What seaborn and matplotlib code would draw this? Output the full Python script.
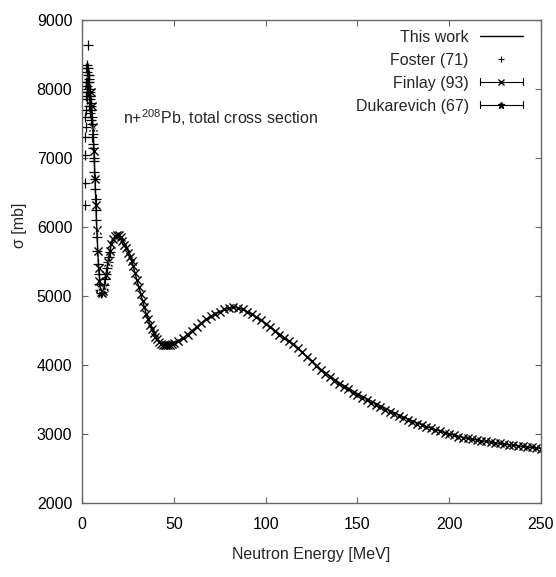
import matplotlib
matplotlib.use("Agg")
import matplotlib.pyplot as plt
import seaborn as sns
from matplotlib.lines import Line2D
from matplotlib.legend_handler import HandlerBase

# ---------------- data ----------------
model_E = [2, 3, 4, 5, 6, 7, 8, 9, 10, 11, 12, 14, 16, 18, 20, 22, 24, 26, 28, 30,
           32, 35, 38, 41, 44, 47, 50, 55, 60, 65, 70, 75, 80, 85, 90, 95, 100,
           110, 120, 130, 140, 150, 160, 170, 180, 190, 200, 210, 220, 230, 240, 250]
model_sigma = [8000, 8150, 8050, 7850, 7450, 6750, 6000, 5420, 5120, 5050, 5120, 5480,
               5760, 5870, 5880, 5810, 5720, 5610, 5420, 5220, 5030, 4740, 4520, 4370,
               4295, 4285, 4310, 4390, 4500, 4610, 4705, 4775, 4825, 4830, 4775, 4695,
               4605, 4400, 4180, 3940, 3745, 3585, 3445, 3310, 3190, 3085, 3000, 2935,
               2890, 2855, 2820, 2790]

foster_E = [1.5, 1.6, 1.7, 1.8, 1.9, 2.0, 2.1, 2.2, 2.3, 2.4, 2.5, 2.6, 2.7, 2.8, 2.9,
            3.0, 3.1, 3.2, 3.3, 3.4, 3.5, 3.6, 3.7, 3.8, 3.9, 4.0, 4.1, 4.2, 4.3, 4.4,
            4.5, 4.6, 4.7, 4.8, 4.9, 5.0, 5.2, 5.4, 5.6, 5.8, 6.0, 6.2, 6.4, 6.6, 6.8,
            7.0, 7.2, 7.4, 7.6, 7.8, 8.1, 8.4, 8.7, 9.0, 9.4, 9.8, 10.2, 10.6, 11.0,
            11.5, 12.0, 12.5, 13.0, 13.5, 14.0, 14.5, 15.0]
foster_sigma = [7050, 7300, 6640, 7600, 6320, 7900, 7450, 8100, 7700, 8300, 7950, 8250,
                8050, 8350, 7850, 8200, 8000, 8300, 8100, 8640, 7950, 8200, 7900, 8100,
                7750, 8150, 7850, 8000, 7700, 7950, 7650, 7900, 7800, 7550, 7700, 7750,
                7500, 7600, 7300, 7350, 7150, 7200, 6950, 7000, 6800, 6700, 6550, 6400,
                6250, 6100, 5850, 5650, 5470, 5320, 5170, 5090, 5055, 5045, 5055, 5100,
                5160, 5240, 5320, 5410, 5490, 5570, 5640]

finlay_E = [5.0, 5.5, 6.0, 6.5, 7.0, 7.5, 8.0, 8.5, 9.0, 9.5, 10.0, 10.5, 11.0, 11.5,
            12.0, 13.0, 14.0, 15.0, 16.0, 17.0, 18.0, 19.0, 20.0, 21.0, 22.0, 23.0,
            24.0, 25.0, 26.0, 27.0, 28.0, 29.0, 30.0, 31.0, 32.0, 33.0, 34.0, 35.0,
            36.0, 37.0, 38.0, 39.0, 40.0, 41.0, 42.0, 43.0, 44.0, 45.0, 46.0, 47.0,
            48.0, 49.0, 50.0, 52.5, 55.0, 57.5, 60.0, 62.5, 65.0, 67.5, 70.0, 72.5,
            75.0, 77.5, 80.0, 82.5, 85.0, 87.5, 90.0, 92.5, 95.0, 97.5, 100.0, 102.5,
            105.0, 107.5, 110.0, 112.5, 115.0, 117.5, 120.0, 122.5, 125.0, 127.5,
            130.0, 132.5, 135.0, 137.5, 140.0, 142.5, 145.0, 147.5, 150.0, 152.5,
            155.0, 157.5, 160.0, 162.5, 165.0, 167.5, 170.0, 172.5, 175.0, 177.5,
            180.0, 182.5, 185.0, 187.5, 190.0, 192.5, 195.0, 197.5, 200.0, 202.5,
            205.0, 207.5, 210.0, 212.5, 215.0, 217.5, 220.0, 222.5, 225.0, 227.5,
            230.0, 232.5, 235.0, 237.5, 240.0, 242.5, 245.0, 247.5, 250.0]
finlay_sigma = [7950, 7750, 7450, 7100, 6700, 6320, 5960, 5650, 5400, 5220, 5110, 5055,
                5045, 5070, 5130, 5300, 5490, 5650, 5760, 5830, 5870, 5885, 5880, 5850,
                5800, 5740, 5690, 5630, 5570, 5510, 5430, 5330, 5230, 5130, 5030, 4930,
                4840, 4740, 4660, 4580, 4520, 4460, 4410, 4370, 4340, 4310, 4295, 4290,
                4285, 4285, 4290, 4300, 4315, 4345, 4390, 4440, 4500, 4555, 4610, 4660,
                4705, 4740, 4775, 4805, 4825, 4835, 4830, 4805, 4770, 4735, 4690, 4645,
                4600, 4550, 4495, 4440, 4395, 4350, 4310, 4250, 4185, 4120, 4055, 3990,
                3925, 3870, 3820, 3770, 3720, 3680, 3645, 3600, 3560, 3525, 3490, 3455,
                3420, 3385, 3350, 3315, 3285, 3260, 3235, 3205, 3175, 3150, 3125, 3100,
                3080, 3060, 3040, 3020, 3000, 2980, 2960, 2945, 2935, 2925, 2915, 2905,
                2895, 2885, 2875, 2865, 2855, 2845, 2840, 2830, 2820, 2815, 2805, 2795,
                2785]

duk_E = [6.0, 8.0, 10.0, 12.0, 14.0]
duk_sigma = [7400, 5950, 5100, 5120, 5470]

legend_labels = ["This work", "Foster (71)", "Finlay (93)", "Dukarevich (67)"]
annotation = r"n+$^{208}$Pb, total cross section"
x_label = "Neutron Energy [MeV]"
y_label = "\u03c3 [mb]"
x_ticks = [0, 50, 100, 150, 200, 250]
y_ticks = [2000, 3000, 4000, 5000, 6000, 7000, 8000, 9000]

# ---------------- style ----------------
sns.set_theme(style="ticks")
FAM = "Liberation Sans"
FS = 11.5
plt.rcParams["font.family"] = [FAM, "DejaVu Sans"]
plt.rcParams["mathtext.fontset"] = "custom"
plt.rcParams["mathtext.rm"] = FAM
plt.rcParams["mathtext.it"] = FAM
edge = "#666666"

fig, ax = plt.subplots(figsize=(5.56, 5.77), dpi=100)
fig.subplots_adjust(left=82 / 556, right=541 / 556, top=1 - 20 / 577, bottom=1 - 503 / 577)

sns.lineplot(x=model_E, y=model_sigma, ax=ax, color="black", linewidth=1.0,
             sort=False, estimator=None, legend=False)
sns.scatterplot(x=foster_E, y=foster_sigma, ax=ax, marker="+", s=50, color="black",
                linewidth=0.9, legend=False)
sns.scatterplot(x=finlay_E, y=finlay_sigma, ax=ax, marker="x", s=34, color="black",
                linewidth=1.0, legend=False)
sns.scatterplot(x=duk_E, y=duk_sigma, ax=ax, marker="*", s=34, color="black",
                linewidth=0.6, legend=False)

ax.set_xlim(0, 250)
ax.set_ylim(2000, 9000)
ax.set_xticks(x_ticks)
ax.set_yticks(y_ticks)
ax.tick_params(direction="in", length=4.5, width=0.8, color=edge, top=True, right=True,
               labelsize=FS, labelcolor="black")
ax.tick_params(axis="x", pad=10)
ax.tick_params(axis="y", pad=7)
for sp in ax.spines.values():
    sp.set_color(edge)
    sp.set_linewidth(1.0)

ax.set_xlabel(x_label, fontsize=FS, labelpad=11)
ax.set_ylabel(y_label, fontsize=FS)
ax.yaxis.set_label_coords(-0.12, 0.575)

ax.text(22.3, 7490, annotation, fontsize=FS, va="baseline", ha="left")


class ErrHandler(HandlerBase):
    def __init__(self, marker):
        super().__init__()
        self.marker = marker

    def create_artists(self, legend, orig_handle, xdescent, ydescent, width, height,
                       fontsize, trans):
        y = height / 2 - ydescent
        x0 = -xdescent
        x1 = x0 + width
        cap = 2.5
        arts = [Line2D([x0, x1], [y, y]),
                Line2D([x0, x0], [y - cap, y + cap]),
                Line2D([x1, x1], [y - cap, y + cap]),
                Line2D([(x0 + x1) / 2], [y], marker=self.marker, markersize=4.5,
                       linestyle="none")]
        for a in arts:
            a.set_color("black")
            a.set_linewidth(0.8)
            a.set_transform(trans)
        return arts


h_line = Line2D([], [], color="black", linewidth=1.0)
h_foster = Line2D([], [], color="black", marker="+", markersize=5, markeredgewidth=0.8,
                  linestyle="none")
h_finlay = Line2D([], [], color="black", marker="x")
h_duk = Line2D([], [], color="black", marker="*")
ax.legend([h_line, h_foster, h_finlay, h_duk], legend_labels,
          handler_map={h_finlay: ErrHandler("x"), h_duk: ErrHandler("*")},
          loc="upper right", bbox_to_anchor=(0.9747, 0.9934), frameon=False,
          markerfirst=False, fontsize=FS, handlelength=2.7, handletextpad=0.7,
          labelspacing=0.5, borderaxespad=0.0, borderpad=0.4, numpoints=1)

fig.savefig("out.png", dpi=100)
